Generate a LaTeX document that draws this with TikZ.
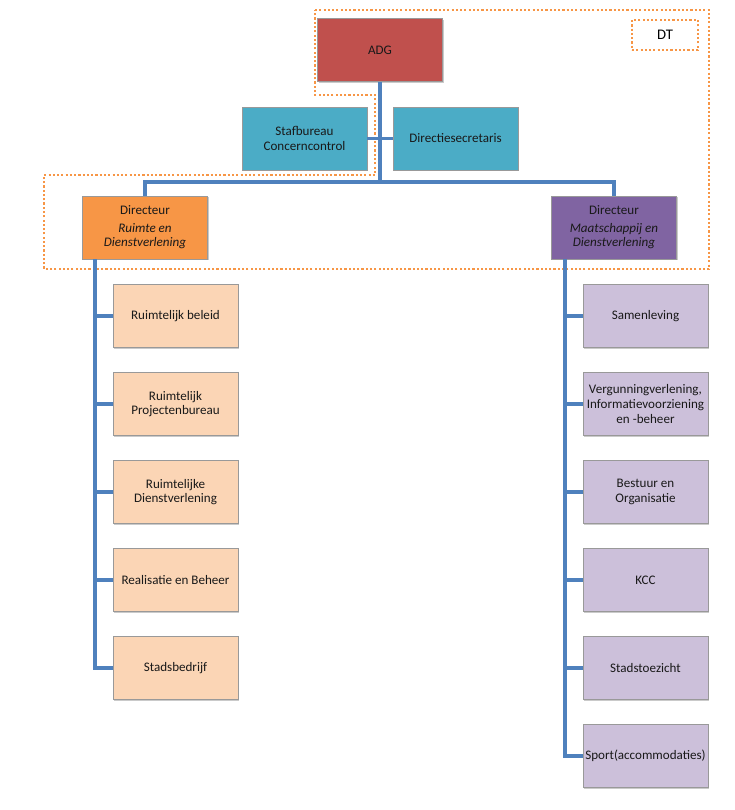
\documentclass[tikz,border=0pt]{standalone}
\usepackage{fontspec}
\setmainfont{Carlito}
\usetikzlibrary{shadows}
\definecolor{adgred}{HTML}{C0504D}
\definecolor{stafblue}{HTML}{4BACC6}
\definecolor{dirorange}{HTML}{F79646}
\definecolor{dirpurple}{HTML}{8064A2}
\definecolor{lightorange}{HTML}{FBD5B5}
\definecolor{lightpurple}{HTML}{CCC0DA}
\definecolor{lineblue}{HTML}{4F81BD}
\begin{document}
\begin{tikzpicture}[x=0.75pt, y=-0.75pt]
\tikzset{box/.style = {shape=rectangle, draw=black!40, minimum width=93.75pt, minimum height=47.25pt, inner sep=1pt, align=center, text=black!90, font=\fontsize{9.8}{11}\selectfont, drop shadow={shadow xshift=1pt, shadow yshift=-1pt, opacity=0.35, fill=black!60}}}
\tikzset{edge/.style = {draw=lineblue, line width=2.6pt}}
\tikzset{dtline/.style = {draw=dirorange, line width=1.6pt, dash pattern=on 1.6pt off 1.6pt}}
\useasboundingbox (0,0) rectangle (735,810);
% DT region
\draw[dtline] (315,10) -- (709,10) -- (709,269) -- (44,269) -- (44,175) -- (375,175) -- (375,95) -- (315,95) -- cycle;
\node[dtline, minimum width=49.5pt, minimum height=22.5pt, font=\fontsize{11}{13}\selectfont](dt) at (665,35) {DT};
% top
\node[box, fill=adgred](adg) at (380,50) {ADG};
\node[box, fill=stafblue](staf) at (304.5,138.5) {Stafbureau\\Concerncontrol};
\node[box, fill=stafblue](sec) at (455.5,138.5) {Directiesecretaris};
\node[box, fill=dirorange](dirL) at (145,227.5) {Directeur\\[2pt]\textit{Ruimte en}\\\textit{Dienstverlening}};
\node[box, fill=dirpurple](dirR) at (614,227.5) {Directeur\\[2pt]\textit{Maatschappij en}\\\textit{Dienstverlening}};
% left column
\node[box, fill=lightorange](l1) at (175.5,316) {Ruimtelijk beleid};
\node[box, fill=lightorange](l2) at (175.5,404) {Ruimtelijk\\Projectenbureau};
\node[box, fill=lightorange](l3) at (175.5,492) {Ruimtelijke\\Dienstverlening};
\node[box, fill=lightorange](l4) at (175.5,580) {Realisatie en Beheer};
\node[box, fill=lightorange](l5) at (175.5,668) {Stadsbedrijf};
% right column
\node[box, fill=lightpurple](r1) at (645.5,316) {Samenleving};
\node[box, fill=lightpurple](r2) at (645.5,404) {Vergunningverlening,\\Informatievoorziening\\en -beheer};
\node[box, fill=lightpurple](r3) at (645.5,492) {Bestuur en\\Organisatie};
\node[box, fill=lightpurple](r4) at (645.5,580) {KCC};
\node[box, fill=lightpurple](r5) at (645.5,668) {Stadstoezicht};
\node[box, fill=lightpurple](r6) at (645.5,756) {Sport(accommodaties)};
% connectors
\coordinate (bus) at (380,182);
\coordinate (sL) at (95,259);
\coordinate (sR) at (565,259);
\draw[edge] (adg) -- (bus);
\draw[edge] (staf) -- (sec);
\draw[edge] (bus) -| (dirL);
\draw[edge] (bus) -| (dirR);
\foreach \c in {l1,l2,l3,l4,l5}
  \draw[edge] (sL) |- (\c.west);
\foreach \c in {r1,r2,r3,r4,r5,r6}
  \draw[edge] (sR) |- (\c.west);
\end{tikzpicture}
\end{document}
